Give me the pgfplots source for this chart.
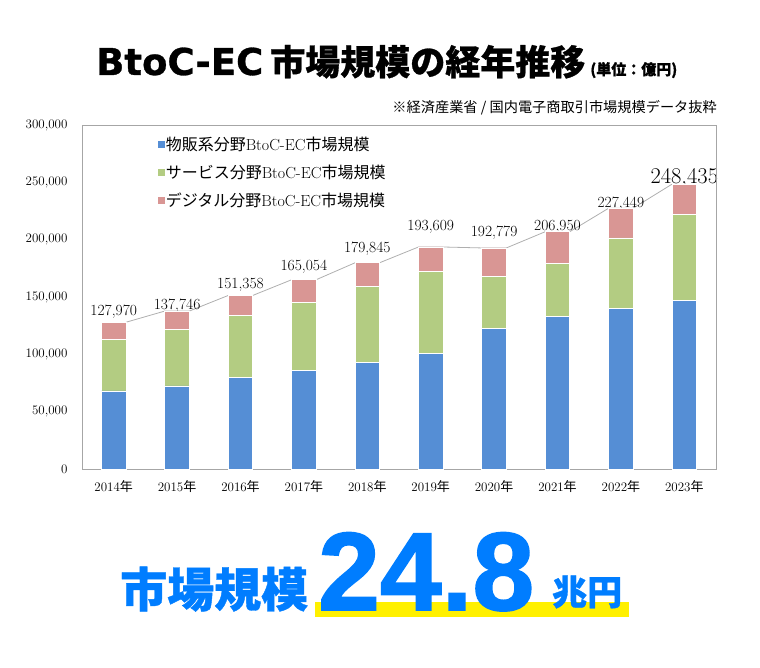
\documentclass[border=0pt]{standalone}
\usepackage{fontspec}
\usepackage{pgfplots}
\pgfplotsset{compat=1.18}
\usepackage{pgfplotstable}
\newfontfamily\cjk{Noto Sans CJK JP}[BoldFeatures={FakeBold=0.8}]
\newfontfamily\latb{DejaVu Sans}[BoldFeatures={FakeBold=0.8}]
\newfontfamily\heavy{Liberation Sans}[BoldFeatures={FakeBold=1.5}]
\definecolor{cgoods}{RGB}{85,142,213}
\definecolor{cserv}{RGB}{179,204,130}
\definecolor{cdig}{RGB}{217,150,148}
\definecolor{cblue}{RGB}{0,125,255}
\definecolor{cyel}{RGB}{255,240,0}
\definecolor{cframe}{RGB}{166,166,166}

% market size by segment (100 million yen)
\pgfplotstableread{
x goods serv dig
0 68043 44816 15111
1 72398 49014 16334
2 80043 53532 17782
3 86008 59568 19478
4 92992 66471 20382
5 100515 71672 21422
6 122333 45832 24614
7 132865 46424 27661
8 139997 61477 25974
9 146760 75169 26506
}\ecdata

% total labels: label position y and printed total
\pgfplotstableread{
x ypos total
0 131433 127970
1 135976 137746
2 154821 151358
3 170261 165054
4 185924 179845
5 204921 193609
6 199730 192779
7 205180 206950
8 225679 227449
}\totals
\pgfplotstableread{
x ypos total
9 244659 248435
}\totalslast

% series lines between bar tops
\pgfplotstableread{
x y
0.193 127970
0.807 137746
1.193 137746
1.807 151358
2.193 151358
2.807 165054
3.193 165054
3.807 179845
4.193 179845
4.807 193609
5.193 193609
5.807 192779
6.193 192779
6.807 206950
7.193 206950
7.807 227449
8.193 227449
8.807 248435
}\serline

\pgfplotsset{sqlegend/.style={legend image code/.code={\path[##1,draw=none] (0pt,-3pt) rectangle (6.5pt,3.5pt);}}}

\begin{document}
\begin{tikzpicture}[x=1pt,y=1pt]
\path[use as bounding box] (0,0) rectangle (760,667);
% title
\node[anchor=base west, inner sep=0] at (96,592) {{\latb\bfseries\fontsize{37}{37}\selectfont BtoC-EC}\hspace{7pt}{\cjk\bfseries\fontsize{35}{35}\selectfont 市場規模の経年推移}\hspace{5pt}{\cjk\bfseries\fontsize{15}{15}\selectfont (単位：億円)}};
\node[anchor=base east, inner sep=0] at (717,554) {\cjk\fontsize{14.2}{14.2}\selectfont ※経済産業省 / 国内電子商取引市場規模データ抜粋};
% series lines and labels
\begin{axis}[at={(82pt,198pt)}, anchor=south west, scale only axis, width=634pt, height=344pt,
  xmin=-0.5, xmax=9.5, ymin=0, ymax=300000, axis lines=none, ticks=none, clip=false]
\addplot[color=cframe!90, line width=0.8pt] table[x=x,y=y]{\serline};
\addplot[draw=none, mark=none, point meta=explicit,
  nodes near coords={\pgfmathprintnumber[fixed,precision=0,1000 sep={,},assume math mode=true]{\pgfplotspointmeta}},
  nodes near coords style={font=\fontsize{15.5}{15.5}\selectfont, inner sep=0pt, text=black}]
  table[x=x,y=ypos,meta=total]{\totals};
\addplot[draw=none, mark=none, point meta=explicit,
  nodes near coords={\pgfmathprintnumber[fixed,precision=0,1000 sep={,},assume math mode=true]{\pgfplotspointmeta}},
  nodes near coords style={font=\fontsize{22.5}{22.5}\selectfont, inner sep=0pt, text=black}]
  table[x=x,y=ypos,meta=total]{\totalslast};
\end{axis}
% bars
\begin{axis}[at={(82pt,198pt)}, anchor=south west, scale only axis, width=634pt, height=344pt,
  xmin=-0.5, xmax=9.5, ymin=0, ymax=300000,
  ybar stacked, bar width=0.386,
  axis line style={cframe, line width=0.8pt},
  major tick length=0pt,
  ytick={0,50000,100000,150000,200000,250000,300000},
  scaled y ticks=false,
  yticklabel={\pgfmathprintnumber[fixed,precision=0,1000 sep={,},assume math mode=true]{\tick}},
  yticklabel style={font=\fontsize{13}{13}\selectfont, xshift=-11pt},
  xtick={0,...,9},
  xticklabels={2014{\cjk 年},2015{\cjk 年},2016{\cjk 年},2017{\cjk 年},2018{\cjk 年},2019{\cjk 年},2020{\cjk 年},2021{\cjk 年},2022{\cjk 年},2023{\cjk 年}},
  xticklabel style={font=\fontsize{13}{13}\selectfont, yshift=-8pt},
  legend style={draw=none, fill=none, at={(0.12,0.968)}, anchor=north west,
    font=\fontsize{16}{16}\selectfont, row sep=11pt, inner sep=0pt, nodes={inner sep=1pt}},
  legend cell align=left,
  ]
\addplot[fill=cgoods, draw=white, line width=0.8pt, sqlegend] table[x=x,y=goods]{\ecdata};
\addlegendentry{{\cjk 物販系分野}BtoC-EC{\cjk 市場規模}}
\addplot[fill=cserv, draw=white, line width=0.8pt, sqlegend] table[x=x,y=serv]{\ecdata};
\addlegendentry{{\cjk サービス分野}BtoC-EC{\cjk 市場規模}}
\addplot[fill=cdig, draw=white, line width=0.8pt, sqlegend] table[x=x,y=dig]{\ecdata};
\addlegendentry{{\cjk デジタル分野}BtoC-EC{\cjk 市場規模}}
\end{axis}
% bottom
\fill[cyel] (315,50) rectangle (629,65);
\node[anchor=base west, inner sep=0, text=cblue] at (120,60) {\cjk\bfseries\fontsize{47}{47}\selectfont 市場規模};
\node[anchor=base west, inner sep=0, text=cblue] at (318,57) {\heavy\bfseries\fontsize{111}{111}\selectfont 24.8};
\node[anchor=base west, inner sep=0, text=cblue] at (552,62) {\cjk\bfseries\fontsize{35}{35}\selectfont 兆円};
\end{tikzpicture}
\end{document}
